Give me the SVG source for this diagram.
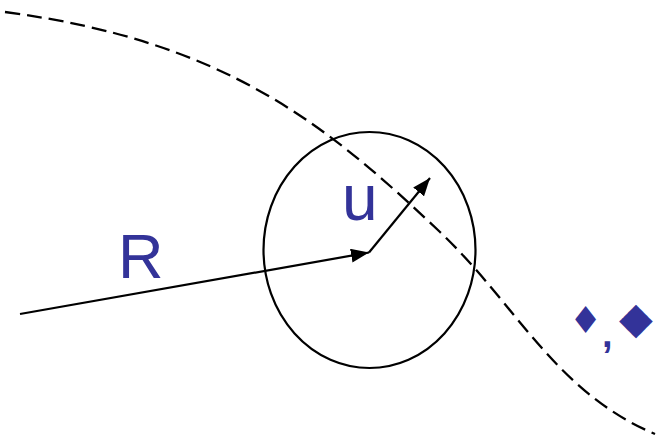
<svg xmlns="http://www.w3.org/2000/svg" width="660" height="439" viewBox="0 0 660 439">
<style>
.line{fill:none;stroke:#000;stroke-width:2.2}
.dash{fill:none;stroke:#000;stroke-width:2.3;stroke-dasharray:15 7}
.lbl{fill:#333399;font-family:"Liberation Sans",Arial,sans-serif}
.sym{fill:#333399;font-family:"DejaVu Sans",sans-serif}
</style>
<defs>
<marker id="ah" markerWidth="18" markerHeight="14" refX="18" refY="7" orient="auto" markerUnits="userSpaceOnUse">
<path d="M0,0 L18,7 L0,14 Z" fill="#000"/>
</marker>
</defs>
<rect width="660" height="439" fill="#fff"/>
<path class="dash" d="M5,12 C225,41 326,124 440,232 C516,304 555,392 655,434"/>
<g id="circle"><ellipse class="line" cx="369.5" cy="250" rx="106" ry="118"/></g>
<g id="connectors">
<line class="line" x1="20" y1="314" x2="369" y2="252.5" marker-end="url(#ah)"/>
<line class="line" x1="369" y1="252.5" x2="430" y2="178" marker-end="url(#ah)"/>
</g>
<g id="labels">
<text class="sym"><tspan x="569" y="333" font-size="37">♦</tspan><tspan x="602" y="347" font-size="38" font-family="Liberation Sans" font-weight="bold">,</tspan><tspan x="619" y="333" font-size="44">◆</tspan></text>
<text class="lbl" x="118" y="278" font-size="63">R</text>
<text class="lbl" x="342" y="220" font-size="64">u</text>
</g>
</svg>
